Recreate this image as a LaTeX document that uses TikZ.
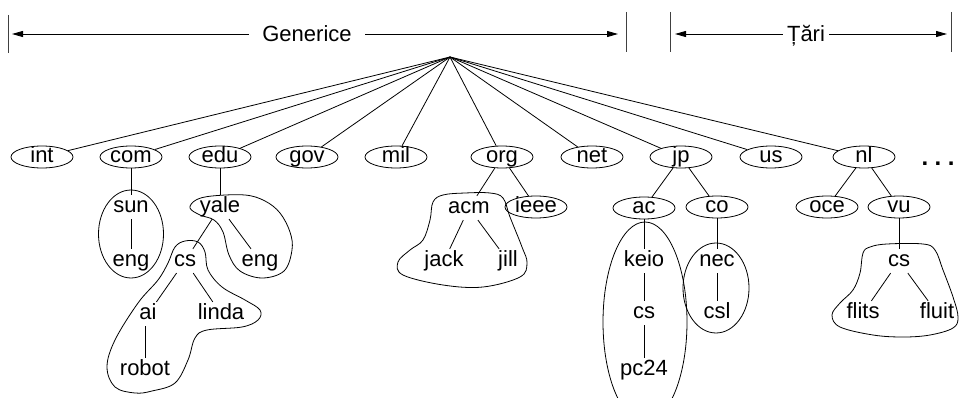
\documentclass[tikz,border=0pt]{standalone}
\usepackage{fontspec}
\setmainfont{Liberation Sans}
\usetikzlibrary{shapes.geometric,arrows.meta}
\begin{document}
\begin{tikzpicture}[x=1pt,y=-1pt,line width=0.8pt,
 every node/.style={font=\fontsize{22}{26}\selectfont},
 el/.style={ellipse,draw,minimum width=62pt,minimum height=22pt,inner sep=0pt,text height=11.4pt,text depth=0pt},
 tx/.style={rectangle,inner xsep=2pt,inner ysep=6pt,text height=11.4pt,text depth=0pt},
 hd/.style={inner ysep=0pt,text height=15.7pt,text depth=0pt},
 bar/.style={line width=1pt,draw=black!75},
 arr/.style={-{Triangle[length=11pt,width=6pt]}},
 grp/.style={draw}]
\useasboundingbox (0,0) rectangle (960,398);
\clip (0,0) rectangle (960,398);

% header
\coordinate (b1t) at (8,15);   \coordinate (b1b) at (8,53);
\coordinate (b2t) at (626,12); \coordinate (b2b) at (626,52);
\coordinate (b3t) at (670,12); \coordinate (b3b) at (670,52);
\coordinate (b4t) at (951,12); \coordinate (b4b) at (951,52);
\draw[bar] (b1t) -- (b1b);
\draw[bar] (b2t) -- (b2b);
\draw[bar] (b3t) -- (b3b);
\draw[bar] (b4t) -- (b4b);
\node[hd,inner xsep=13pt] (gen) at (307,34) {Generice};
\node[hd,inner xsep=4pt] (tari) at (806,34) {Țări};
\coordinate (g1) at (12,34);
\coordinate (g2) at (618,34);
\coordinate (t1) at (675,34);
\coordinate (t2) at (947,34);
\draw[arr] (gen.west) -- (g1);
\draw[arr] (gen.east) -- (g2);
\draw[arr] (tari.west) -- (t1);
\draw[arr] (tari.east) -- (t2);

% root
\coordinate (root) at (450,57);

% top level
\node[el] (int) at (42,157) {int};
\node[el] (com) at (131,157) {com};
\node[el] (edu) at (220,157) {edu};
\node[el] (gov) at (307,157) {gov};
\node[el] (mil) at (396,157) {mil};
\node[el] (org) at (502,157) {org};
\node[el] (net) at (592,157) {net};
\node[el] (jp)  at (681,157) {jp};
\node[el] (us)  at (771,157) {us};
\node[el] (nl)  at (864,157) {nl};
\node[anchor=base,font=\fontsize{24}{28}\selectfont\bfseries] (dots) at (938,166) {.\hspace{6.5pt}.\hspace{6.5pt}.};

\foreach \n in {int,com,edu,gov,mil,org,net,jp,us,nl}
  \draw (root) -- (\n);

% com subtree
\node[tx] (sun)  at (131,207) {sun};
\node[tx] (eng1) at (131,261) {eng};
\draw (com) -- (sun);
\draw (sun) -- (eng1);
\draw[grp] (131,234) ellipse [x radius=32.5, y radius=44];

% edu subtree
\node[tx] (yale) at (220,207) {yale};
\node[tx] (eng2) at (260,261) {eng};
\node[tx] (cs1)  at (185,261) {cs};
\node[tx] (ai)   at (148,314) {ai};
\node[tx] (linda) at (221,314) {linda};
\node[tx] (robot) at (145,370) {robot};
\draw (edu) -- (yale);
\draw (yale) -- (eng2);
\draw (yale) -- (cs1);
\draw (cs1) -- (ai);
\draw (cs1) -- (linda);
\draw (robot.north) -- (robot.north |- ai.south);
\draw[grp] plot[smooth cycle, tension=0.6] coordinates {(190,208) (196,200) (212,196) (245,195) (265,201) (280,213) (290,232) (292,250) (284,271) (262,278) (240,271) (229,255) (223,232) (214,220) (200,215)};
\draw[grp] plot[smooth cycle, tension=0.6] coordinates {(185,241) (175,247) (168,263) (158,280) (138,303) (115,340) (107,367) (115,387) (135,393) (152,391) (175,383) (188,360) (195,338) (207,330) (242,327) (258,320) (260,310) (245,300) (222,287) (208,270) (205,252) (198,242)};

% org subtree
\node[tx] (acm)  at (469,208) {acm};
\node[el] (ieee) at (536,207) {ieee};
\node[tx] (jack) at (444,261) {jack};
\node[tx] (jill) at (508,261) {jill};
\draw (org) -- (acm);
\draw (org) -- (ieee);
\draw (acm) -- (jack);
\draw (acm) -- (jill);
\draw[grp] plot[smooth cycle, tension=0.6] coordinates {(433,202) (443,195) (465,193) (490,193) (503,198) (510,217) (522,247) (527,263) (520,277) (483,287) (443,285) (403,275) (398,262) (410,250) (423,240) (430,220)};

% jp subtree
\node[el] (ac) at (644,208) {ac};
\node[el] (co) at (717,207) {co};
\node[tx] (keio) at (644,261) {keio};
\node[tx] (cs2)  at (644,313) {cs};
\node[tx] (pc24) at (644,370) {pc24};
\node[tx] (nec)  at (717,261) {nec};
\node[tx] (csl)  at (717,313) {csl};
\draw (jp) -- (ac);
\draw (jp) -- (co);
\draw (ac) -- (keio);
\draw (keio) -- (cs2);
\draw (cs2) -- (pc24);
\draw (co) -- (nec);
\draw (nec) -- (csl);
\draw[grp] (645,322) ellipse [x radius=42, y radius=100];
\draw[grp] (716,288) ellipse [x radius=33, y radius=45];

% nl subtree
\node[el] (oce) at (827,207) {oce};
\node[el] (vu)  at (899,207) {vu};
\node[tx] (cs3) at (899,261) {cs};
\node[tx] (flits) at (863,313) {flits};
\node[tx] (fluit) at (937,313) {fluit};
\draw (nl) -- (oce);
\draw (nl) -- (vu);
\draw (vu) -- (cs3);
\draw (cs3) -- (flits);
\draw (cs3) -- (fluit);
\draw[grp] plot[smooth cycle, tension=0.6] coordinates {(863,253) (870,247) (887,244) (923,244) (935,250) (943,270) (953,297) (958,317) (953,328) (930,335) (903,337) (873,335) (840,327) (832,315) (840,303) (853,290) (860,273)};
\end{tikzpicture}
\end{document}
